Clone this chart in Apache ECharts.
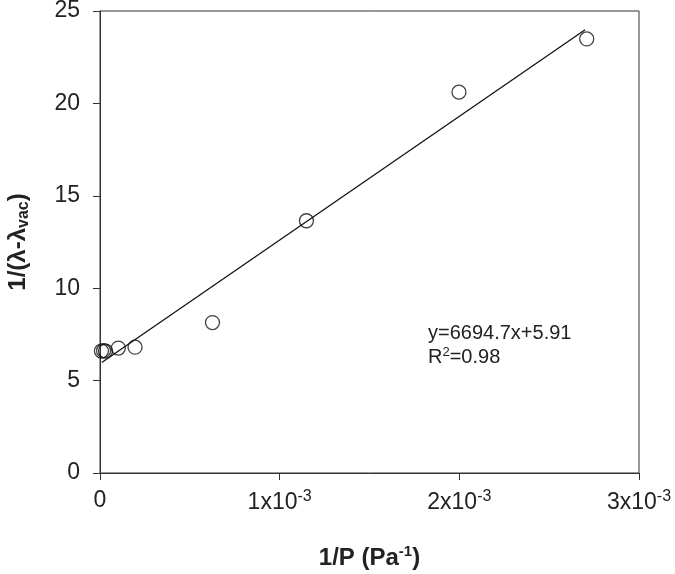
<!DOCTYPE html>
<html>
<head>
<meta charset="utf-8">
<script src="https://cdn.jsdelivr.net/npm/echarts@6/dist/echarts.min.js"></script>
<style>
html,body{margin:0;padding:0;background:#fff;}
#chart{width:675px;height:574px;}
</style>
</head>
<body>
<div id="chart"></div>
<script>
// Data
const invPressure = [0.000008, 0.00002, 0.000031, 0.000102, 0.000195, 0.000626, 0.001149, 0.001998, 0.002709];
const invShift    = [6.60, 6.62, 6.60, 6.76, 6.81, 8.14, 13.65, 20.61, 23.49];
// Fitted line endpoints (y = 6694.7x + 5.91)
const fitX = [0.00001, 0.0027];
const fitY = [5.98, 23.99];
const xTicks = [0, 0.001, 0.002, 0.003];
const yTicks = [0, 5, 10, 15, 20, 25];
const eqText = 'y=6694.7x+5.91';
const r2Text = '0.98';

const FONT = '"Liberation Sans", Arial, sans-serif';
const chart = echarts.init(document.getElementById('chart'), null, {renderer: 'canvas'});

const pts = invPressure.map((x, i) => [x, invShift[i]]);
const line = fitX.map((x, i) => [x, fitY[i]]);

chart.setOption({
  backgroundColor: '#fff',
  animation: false,
  grid: {left: 100, right: 36, top: 11, bottom: 101, containLabel: false, outerBoundsMode: 'none',
         show: true, borderColor: '#333', borderWidth: 1, backgroundColor: 'transparent'},
  xAxis: {
    type: 'value', min: xTicks[0], max: xTicks[xTicks.length - 1], interval: 0.001,
    splitLine: {show: false},
    axisLine: {lineStyle: {color: '#333', width: 1}},
    axisTick: {show: true, length: 7, lineStyle: {color: '#333'}},
    axisLabel: {
      margin: 16, color: '#222', fontFamily: FONT, fontSize: 23,
      formatter: function (v) {
        if (Math.abs(v) < 1e-12) return '0';
        const k = Math.round(v * 1000);
        return k + 'x10{sup|-3}';
      },
      rich: {sup: {fontSize: 16, fontFamily: FONT, color: '#222', padding: [0, 0, 11, 0]}}
    },
    name: '1/P (Pa{sup|-1})',
    nameLocation: 'middle', nameGap: 71,
    nameTextStyle: {
      fontFamily: FONT, fontSize: 24, fontWeight: 'bold', color: '#222',
      rich: {sup: {fontSize: 15, fontWeight: 'bold', fontFamily: FONT, color: '#222', padding: [0, 0, 13, 0]}}
    }
  },
  yAxis: {
    type: 'value', min: yTicks[0], max: yTicks[yTicks.length - 1], interval: 5,
    splitLine: {show: false},
    axisLine: {show: true, lineStyle: {color: '#333', width: 1}},
    axisTick: {show: true, length: 7, lineStyle: {color: '#333'}},
    axisLabel: {margin: 20, color: '#222', fontFamily: FONT, fontSize: 23},
    name: '1/(λ-λ{sub|vac})',
    nameLocation: 'middle', nameGap: 68, nameRotate: 90,
    nameTextStyle: {
      fontFamily: FONT, fontSize: 24, fontWeight: 'bold', color: '#222',
      rich: {sub: {fontSize: 16, fontWeight: 'bold', fontFamily: FONT, color: '#222', padding: [12, 0, 0, 0]}}
    }
  },
  series: [
    {
      type: 'line', data: line, showSymbol: false, symbol: 'none',
      lineStyle: {color: '#111', width: 1.3}, z: 2
    },
    {
      type: 'scatter', data: pts, symbol: 'circle', symbolSize: 14,
      itemStyle: {color: 'rgba(255,255,255,0)', borderColor: '#111', borderWidth: 1.3}, z: 3
    }
  ],
  graphic: [
    {
      type: 'text', left: 428, top: 323,
      style: {text: eqText, fontFamily: FONT, fontSize: 20, fill: '#222'}
    },
    {
      type: 'text', left: 428, top: 346,
      style: {
        text: 'R{sup|2}=' + r2Text, fontFamily: FONT, fontSize: 20, fill: '#222',
        rich: {sup: {fontSize: 13, fontFamily: FONT, fill: '#222', padding: [0, 0, 9, 0]}}
      }
    }
  ]
});
</script>
</body>
</html>
